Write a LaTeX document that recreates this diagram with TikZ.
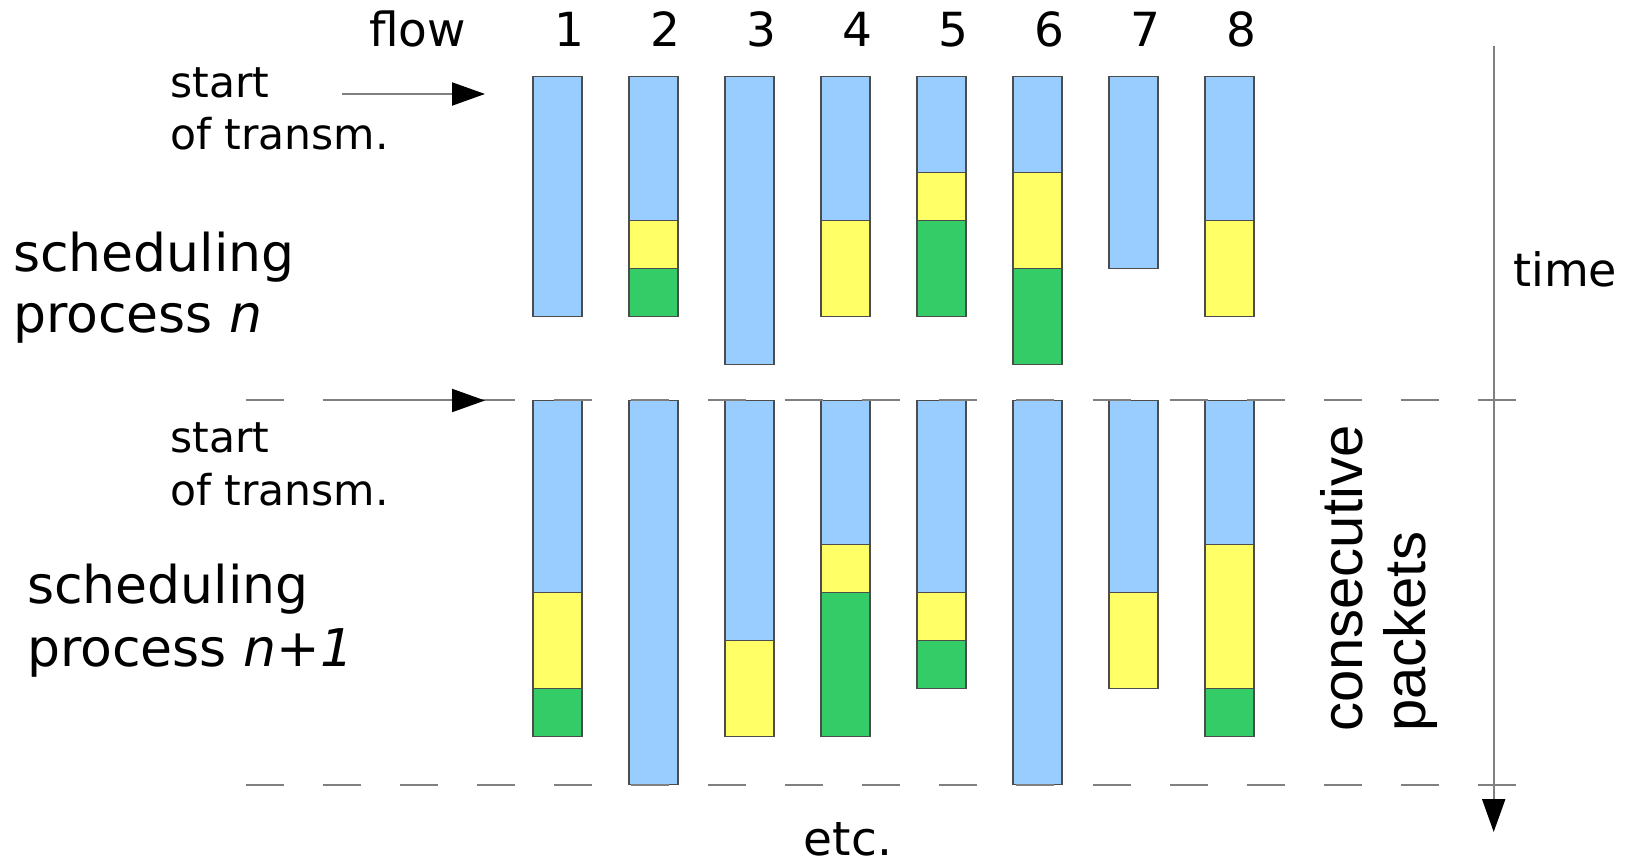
\documentclass[tikz,border=0pt]{standalone}
\usepackage{fontspec}
\setmainfont{DejaVu Sans}
\newfontfamily\widesans{Liberation Sans}
\usetikzlibrary{arrows.meta}
\definecolor{pktB}{HTML}{99CCFF}
\definecolor{pktY}{HTML}{FFFF66}
\definecolor{pktG}{HTML}{33CC66}
\definecolor{axisgray}{HTML}{808080}

\begin{document}
\begin{tikzpicture}[x=1pt,y=-1pt,
  seg/.style={draw=black!70, line width=1.3pt},
  guide/.style={draw=axisgray, line width=2pt},
  period/.style={guide, dash pattern=on 38.5pt off 38.5pt},
  tip/.style={-{Triangle[length=33pt,width=23pt,color=black]}},
  lbl/.style={inner sep=0pt, anchor=base west, align=left},
]
\useasboundingbox (0,0) rectangle (1634,866);

% packet bars: flow / colour / first unit / last unit
\def\utop{76.7}
\def\ubot{400.5}
\foreach \i/\c/\a/\b in {1/B/0/5,
  2/B/0/3, 2/Y/3/4, 2/G/4/5,
  3/B/0/6,
  4/B/0/3, 4/Y/3/5,
  5/B/0/2, 5/Y/2/3, 5/G/3/5,
  6/B/0/2, 6/Y/2/4, 6/G/4/6,
  7/B/0/4,
  8/B/0/3, 8/Y/3/5}{
  \draw[seg, fill=pkt\c] ({533+96*(\i-1)}, {\utop+48*\a}) rectangle +(49, {48*(\b-\a)});
}
\foreach \i/\c/\a/\b in {1/B/0/4, 1/Y/4/6, 1/G/6/7,
  2/B/0/8,
  3/B/0/5, 3/Y/5/7,
  4/B/0/3, 4/Y/3/4, 4/G/4/7,
  5/B/0/4, 5/Y/4/5, 5/G/5/6,
  6/B/0/8,
  7/B/0/4, 7/Y/4/6,
  8/B/0/3, 8/Y/3/6, 8/G/6/7}{
  \draw[seg, fill=pkt\c] ({533+96*(\i-1)}, {\ubot+48*\a}) rectangle +(49, {48*(\b-\a)});
}

% period boundaries
\coordinate (d1w) at (245.7,400.5);
\coordinate (d1e) at (1516,400.5);
\coordinate (d2w) at (245.7,784.5);
\coordinate (d2e) at (1516,784.5);
\draw[period] (d1w) -- (d1e);
\draw[period] (d2w) -- (d2e);

% time axis
\coordinate (t0) at (1493.7,46);
\coordinate (t1) at (1493.7,832);
\draw[guide, tip] (t0) -- (t1);

% start-of-transmission arrows
\coordinate (a1s) at (341.7,94);
\coordinate (a1e) at (485,94);
\coordinate (a2s) at (341.7,400.5);
\coordinate (a2e) at (485,400.5);
\draw[guide, tip] (a1s) -- (a1e);
\draw[guide, tip] (a2s) -- (a2e);

% labels (two-line labels are placed by the baseline of their last line)
\node[lbl, font=\fontsize{47}{56}\selectfont] (flowlbl) at (369,46.7) {flow};
\foreach \i in {1,...,8}
  \node[inner sep=0pt, anchor=base, font=\fontsize{47}{56}\selectfont] (f\i) at ({533+96*(\i-1)+36.5}, 46.7) {\i};

\node[lbl, font=\fontsize{42.5}{52.5}\selectfont] (st1) at (170,150) {start\\of transm.};
\node[lbl, font=\fontsize{42.5}{52.5}\selectfont] (st2) at (170,505.2) {start\\of transm.};

\node[lbl, font=\fontsize{52}{61}\selectfont] (sp1) at (13,333) {scheduling\\process \textit{n}};
\node[lbl, font=\fontsize{52}{63}\selectfont] (sp2) at (27,666) {scheduling\\process \textit{n+1}};

\node[lbl, font=\fontsize{46}{55}\selectfont] (timelbl) at (1513,286.5) {time};
\node[inner sep=0pt, anchor=base, font=\fontsize{47}{56}\selectfont] (etc) at (848,855) {etc.};

\node[lbl, rotate=90, font=\widesans\fontsize{58}{63}\selectfont] (cons) at (1425,732) {consecutive\\packets};
\end{tikzpicture}
\end{document}
